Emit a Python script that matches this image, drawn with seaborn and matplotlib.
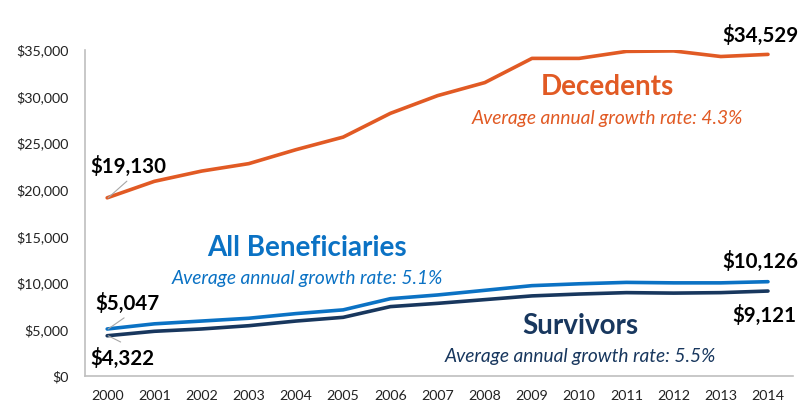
import matplotlib
matplotlib.use("Agg")
import matplotlib.pyplot as plt
import seaborn as sns
import pandas as pd

years = list(range(2000, 2015))
decedents = [19130, 20900, 22000, 22800, 24300, 25650, 28200, 30100, 31500,
             34100, 34100, 34850, 34900, 34300, 34529]
all_beneficiaries = [5047, 5600, 5900, 6200, 6700, 7100, 8300, 8700, 9200,
                     9700, 9900, 10050, 10000, 10000, 10126]
survivors = [4322, 4800, 5050, 5400, 5900, 6300, 7450, 7800, 8200,
             8600, 8800, 8950, 8900, 8950, 9121]
y_ticks = [0, 5000, 10000, 15000, 20000, 25000, 30000, 35000]

series_names = ["Decedents", "All Beneficiaries", "Survivors"]
growth_rates = ["4.3%", "5.1%", "5.5%"]
colors = {"Decedents": "#E15A24", "All Beneficiaries": "#0B72C4",
          "Survivors": "#18375E"}

df = pd.DataFrame({
    "year": years * 3,
    "spending": decedents + all_beneficiaries + survivors,
    "group": [n for n in series_names for _ in years],
})

sns.set_theme(style="white")
plt.rcParams["font.family"] = ["Lato", "DejaVu Sans"]

fig = plt.figure(figsize=(8.12, 4.05), dpi=100)
ax = fig.add_axes([85 / 812, 29 / 405, 708 / 812, 326 / 405])

sns.lineplot(data=df, x="year", y="spending", hue="group", palette=colors,
             hue_order=series_names, linewidth=2.6, legend=False, ax=ax)

ax.set_xlim(1999.53, 2014.53)
ax.set_ylim(0, 35000)
ax.set_xticks(years)
ax.set_xticklabels([str(y) for y in years])
ax.set_yticks(y_ticks)
ax.set_yticklabels([f"${v:,}" for v in y_ticks])
ax.set_xlabel("")
ax.set_ylabel("")
ax.tick_params(axis="both", length=0, labelsize=10.3, colors="#222222")
ax.tick_params(axis="x", pad=10)
ax.tick_params(axis="y", pad=12)
for side in ["top", "right"]:
    ax.spines[side].set_visible(False)
for side in ["left", "bottom"]:
    ax.spines[side].set_color("#BFBFBF")
    ax.spines[side].set_linewidth(1.2)

# Series names and growth rates
label_pos = {
    "Decedents": (2010.6, 31000, 27650),
    "All Beneficiaries": (2004.24, 13700, 10500),
    "Survivors": (2010.02, 5400, 2050),
}
for name, rate in zip(series_names, growth_rates):
    x, y_name, y_rate = label_pos[name]
    ax.text(x, y_name, name, color=colors[name], fontsize=20,
            fontweight="bold", ha="center", va="center")
    ax.text(x, y_rate, f"Average annual growth rate: {rate}",
            color=colors[name], fontsize=13.8, style="italic",
            ha="center", va="center")

# Start and end values
value_style = dict(fontsize=14.8, fontweight="bold", color="black",
                   ha="center", va="center")
ax.text(2014.0 - 0.17, 36550, f"${decedents[-1]:,}", clip_on=False,
        **value_style)
ax.text(2014.0 - 0.17, 12250, f"${all_beneficiaries[-1]:,}", **value_style)
ax.text(2014.0 - 0.07, 6550, f"${survivors[-1]:,}", **value_style)
ax.text(2000.45, 22500, f"${decedents[0]:,}", **value_style)
ax.text(2000.42, 7830, f"${all_beneficiaries[0]:,}", **value_style)
ax.text(2000.32, 1930, f"${survivors[0]:,}", **value_style)

leader = dict(arrowstyle="-", color="#A6A6A6", lw=0.8, shrinkA=0, shrinkB=0)
for val, off in [(decedents[0], (13.5, 12)),
                 (all_beneficiaries[0], (11.5, 8)),
                 (survivors[0], (9, -4.5))]:
    ax.annotate("", xy=(2000.02, val), xytext=off, textcoords="offset points",
                arrowprops=leader)

fig.savefig("out.png", dpi=100)
